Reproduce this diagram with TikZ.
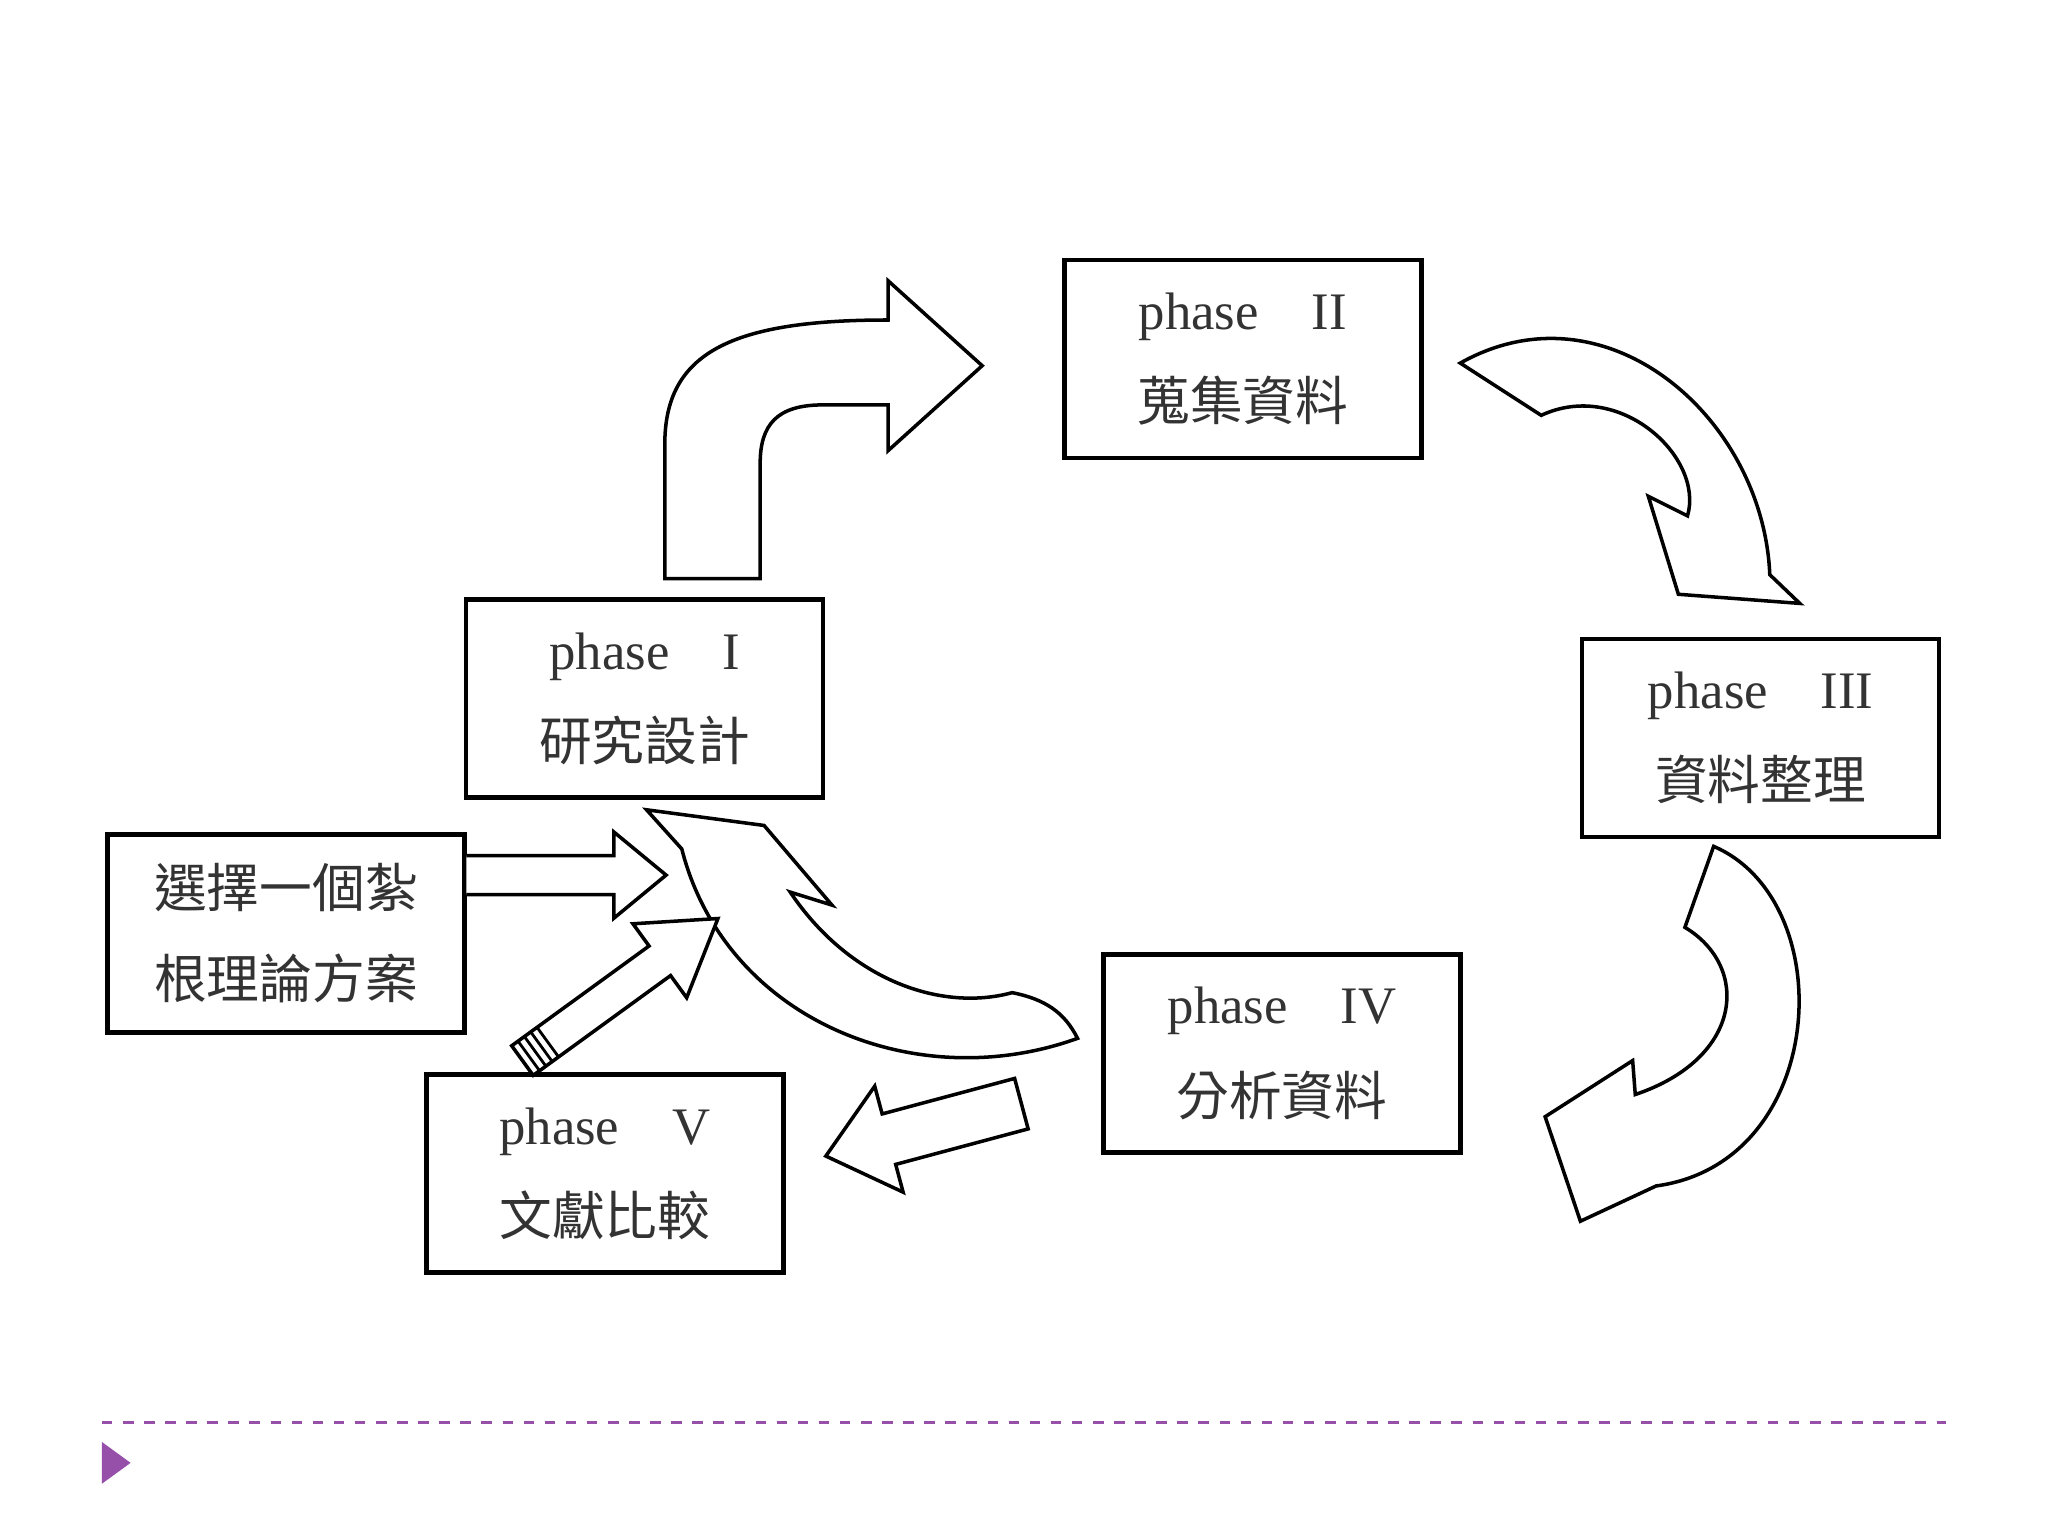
\documentclass[tikz,border=0pt]{standalone}
\usepackage{fontspec}
\setmainfont{Liberation Serif}
\newfontfamily\cjk{Noto Sans CJK TC}
\definecolor{purp}{RGB}{150,80,170}
\begin{document}
\begin{tikzpicture}[x=0.01306cm,y=-0.01306cm,
  box/.style={draw,line width=1.3pt,minimum width=3.57cm,minimum height=1.98cm,align=center,font=\fontsize{15}{26}\selectfont,text=black!80},
  blk/.style={draw,line width=1pt,fill=white,line join=miter}]
\useasboundingbox (0,0) rectangle (1568,1176);
\node[box] (p2) at (951.5,275) {phase\quad II\\{\cjk 蒐集資料}};
\node[box] (p1) at (493.5,535) {phase\quad I\\{\cjk 研究設計}};
\node[box] (p3) at (1348,565) {phase\quad III\\{\cjk 資料整理}};
\node[box] (p4) at (981.5,806.5) {phase\quad IV\\{\cjk 分析資料}};
\node[box] (p5) at (463,898.5) {phase\quad V\\{\cjk 文獻比較}};
\node[box] (ch) at (219,714.5) {{\cjk 選擇一個紮}\\{\cjk 根理論方案}};
% arrow I -> II
\draw[blk] (509,443) -- (509,340) .. controls (509,270) and (560,245) .. (680,245) -- (680,215) -- (752,280) -- (680,345) -- (680,310) -- (630,310) .. controls (595,310) and (582,325) .. (582,355) -- (582,443) -- cycle;
% arrow II -> III
\draw[blk] (1118,278) .. controls (1230,215) and (1350,320) .. (1355,440) -- (1378,462) -- (1285,455) -- (1262,380) -- (1292,395) .. controls (1305,350) and (1240,290) .. (1180,318) -- cycle;
% arrow III -> IV
\draw[blk] (1312,648) .. controls (1410,690) and (1400,890) .. (1268,908) -- (1210,935) -- (1183,855) -- (1250,812) -- (1252,838) .. controls (1335,810) and (1340,740) .. (1290,710) -- cycle;
% arrow IV -> I
\draw[blk] (825,795) .. controls (700,840) and (555,780) .. (522,650) -- (495,620) -- (585,632) -- (637,693) -- (605,683) .. controls (650,750) and (720,775) .. (775,760) .. controls (800,765) and (815,775) .. (825,795) -- cycle;
% choose -> center
\draw[blk] (357,655) -- (470,655) -- (470,637) -- (510,670) -- (470,703) -- (470,685) -- (357,685);
% V -> center
\begin{scope}[shift={(400,812)},rotate=36]
\draw[blk] (0,-14) -- (130,-14) -- (130,-35) -- (185,0) -- (130,35) -- (130,14) -- (0,14) -- cycle;
\foreach \t in {6,12,18,24} \draw[line width=0.8pt] (\t,-14) -- (\t,14);
\end{scope}
% IV -> V
\begin{scope}[shift={(782,845)},rotate=195]
\draw[blk] (0,-20) -- (105,-20) -- (105,-42) -- (155,0) -- (105,42) -- (105,20) -- (0,20) -- cycle;
\end{scope}
% footer
\draw[purp,dashed,line width=0.9pt] (78,1089) -- (1490,1089);
\fill[purp] (78,1104) -- (100,1120) -- (78,1136) -- cycle;
\end{tikzpicture}
\end{document}
